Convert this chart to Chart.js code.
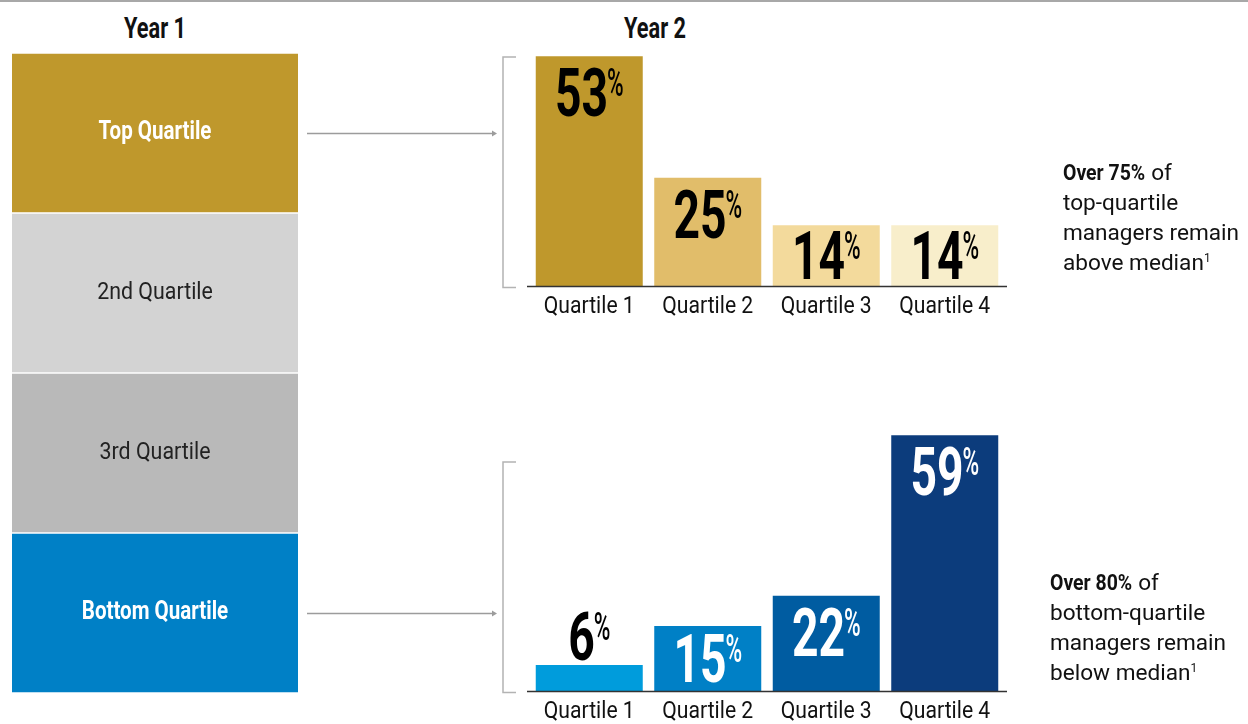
<!DOCTYPE html>
<html>
<head>
<meta charset="utf-8">
<script src="https://cdn.jsdelivr.net/npm/chart.js@4.4.0/dist/chart.umd.min.js"></script>
<style>
  html, body { margin: 0; padding: 0; background: #fff; }
  #wrap { position: relative; width: 1248px; height: 724px; overflow: hidden; font-family: Roboto, sans-serif; color: #111; }
  canvas { position: absolute; left: 0; top: 0; }
  .rule { position: absolute; left: 0; top: 0; width: 1248px; height: 2px; background: #a8a8a8; }
  .title { position: absolute; top: 14px; font-weight: 700; font-size: 29px; line-height: 29px; white-space: nowrap; transform: translateX(-50%) scaleX(0.75); }
  .note { position: absolute; font-size: 22.6px; line-height: 30px; white-space: nowrap; }
  .note .nb { display: inline-block; font-weight: 700; transform: scaleX(0.86); transform-origin: 0 0; margin-right: -13px; }
  .note sup { font-size: 12px; line-height: 0; vertical-align: 8px; }
</style>
</head>
<body>
<div id="wrap">
  <div class="rule"></div>
  <div class="title" style="left:155px">Year 1</div>
  <div class="title" style="left:655px">Year 2</div>
  <canvas id="year1" width="1248" height="724"></canvas>
  <canvas id="topChart" width="1248" height="724"></canvas>
  <canvas id="bottomChart" width="1248" height="724"></canvas>
  <div class="note" style="left:1063px;top:158px"><span class="nb">Over 75%</span> of<br>top-quartile<br>managers remain<br>above median<sup>1</sup></div>
  <div class="note" style="left:1050px;top:568px"><span class="nb">Over 80%</span> of<br>bottom-quartile<br>managers remain<br>below median<sup>1</sup></div>
</div>
<script>
// year 1 groups, stacked bottom to top
const year1Labels = ["Bottom Quartile", "3rd Quartile", "2nd Quartile", "Top Quartile"];
const year1Shares = [25, 25, 25, 25];
const year1Colors = ["#0080C6", "#B9B9B9", "#D3D3D3", "#BF982C"];

// year 2 outcome
const quartileLabels = ["Quartile 1", "Quartile 2", "Quartile 3", "Quartile 4"];
const topQuartileNext = [53, 25, 14, 14];
const bottomQuartileNext = [6, 15, 22, 59];
const topColors = ["#BF982C", "#E1BD6A", "#F3DA9C", "#F8EECB"];
const bottomColors = ["#009CDC", "#0080C6", "#005CA1", "#0C3C7C"];

// draws text squeezed horizontally, to look like a condensed face
function drawNarrow(ctx, text, x, y, font, sx, color, align) {
  ctx.save();
  ctx.font = font;
  ctx.fillStyle = color;
  ctx.textAlign = "left";
  ctx.textBaseline = "alphabetic";
  const w = ctx.measureText(text).width * sx;
  const left = align === "center" ? x - w / 2 : x;
  ctx.translate(left, y);
  ctx.scale(sx, 1);
  ctx.fillText(text, 0, 0);
  ctx.restore();
  return w;
}

function narrowWidth(ctx, text, font, sx) {
  ctx.save();
  ctx.font = font;
  const w = ctx.measureText(text).width * sx;
  ctx.restore();
  return w;
}

function drawArrow(ctx, x1, x2, y) {
  ctx.save();
  ctx.strokeStyle = "#9c9c9c";
  ctx.fillStyle = "#9c9c9c";
  ctx.lineWidth = 1.5;
  ctx.beginPath();
  ctx.moveTo(x1, y);
  ctx.lineTo(x2 - 3, y);
  ctx.stroke();
  ctx.beginPath();
  ctx.moveTo(x2, y);
  ctx.lineTo(x2 - 5, y - 3);
  ctx.lineTo(x2 - 5, y + 3);
  ctx.closePath();
  ctx.fill();
  ctx.restore();
}

const year1Text = {
  id: "year1Text",
  afterDatasetsDraw(chart) {
    const ctx = chart.ctx;
    chart.data.datasets.forEach((ds, i) => {
      const el = chart.getDatasetMeta(i).data[0];
      const cy = (el.y + el.base) / 2;
      const strong = i === 0 || i === 3;
      drawNarrow(ctx, ds.label, el.x, cy + 6,
        strong ? "bold 26px Roboto" : "24px Roboto",
        strong ? 0.79 : 0.89,
        strong ? "#fff" : "#222", "center");
      if (strong) drawArrow(ctx, chart.chartArea.right + 9, 497, Math.round(cy) + 0.5);
    });
  }
};

const pctLabels = {
  id: "pctLabels",
  beforeDatasetsDraw(chart) {
    // bracket to the left of the bars
    const ctx = chart.ctx;
    const base = chart.scales.y.getPixelForValue(0);
    ctx.save();
    ctx.strokeStyle = "#b3b3b3";
    ctx.lineWidth = 1.5;
    ctx.beginPath();
    ctx.moveTo(516, base - 229);
    ctx.lineTo(503, base - 229);
    ctx.lineTo(503, base + 1.5);
    ctx.lineTo(516, base + 1.5);
    ctx.stroke();
    ctx.restore();
  },
  afterDatasetsDraw(chart, args, opts) {
    const ctx = chart.ctx;
    const area = chart.chartArea;
    const meta = chart.getDatasetMeta(0);
    const values = chart.data.datasets[0].data;

    // axis line
    ctx.save();
    ctx.strokeStyle = "#333";
    ctx.lineWidth = 1.5;
    ctx.beginPath();
    ctx.moveTo(area.left - 3, area.bottom + 0.5);
    ctx.lineTo(area.right + 3, area.bottom + 0.5);
    ctx.stroke();
    ctx.restore();

    const cap = 48;
    const numFont = "bold 67px Roboto";
    const pctFont = "500 39px Roboto";
    meta.data.forEach((bar, i) => {
      const h = bar.base - bar.y;
      const txt = String(values[i]);
      let baseline, color;
      if (h >= cap + 10) {
        const pad = Math.min(12, (h - cap) / 2 - 1);
        baseline = bar.y + pad + cap;
        color = opts.colors[i];
      } else {
        baseline = bar.y - 5;
        color = "#000";
      }
      const wn = narrowWidth(ctx, txt, numFont, 0.69);
      const wp = narrowWidth(ctx, "%", pctFont, 0.58);
      const left = bar.x - (wn + wp - 1) / 2;
      drawNarrow(ctx, txt, left, baseline, numFont, 0.69, color, "left");
      drawNarrow(ctx, "%", left + wn - 1, baseline - cap + 28, pctFont, 0.58, color, "left");

      // category label under the axis
      const x = chart.scales.x.getPixelForValue(i);
      drawNarrow(ctx, chart.data.labels[i], x, area.bottom + 27, "23px Roboto", 0.92, "#111", "center");
    });
  }
};

new Chart(document.getElementById("year1"), {
  type: "bar",
  data: {
    labels: ["Year 1"],
    datasets: year1Labels.map((label, i) => ({
      label: label,
      data: [year1Shares[i]],
      backgroundColor: year1Colors[i],
      borderColor: "#fff",
      borderWidth: { top: 1, bottom: 1, left: 0, right: 0 },
      borderSkipped: false,
      barPercentage: 1,
      categoryPercentage: 1
    }))
  },
  options: {
    responsive: false,
    animation: false,
    layout: { padding: { left: 12, right: 950, top: 53, bottom: 31 } },
    plugins: { legend: { display: false }, tooltip: { enabled: false } },
    scales: {
      x: { display: false, stacked: true },
      y: { display: false, stacked: true, min: 0, max: 100 }
    }
  },
  plugins: [year1Text]
});

function makeYear2(id, values, colors, labelColors, padTop, padBottom) {
  return new Chart(document.getElementById(id), {
    type: "bar",
    data: {
      labels: quartileLabels,
      datasets: [{
        data: values,
        backgroundColor: colors,
        borderWidth: 0,
        barPercentage: 0.903,
        categoryPercentage: 1
      }]
    },
    options: {
      responsive: false,
      animation: false,
      layout: { padding: { left: 530, right: 244, top: padTop, bottom: padBottom } },
      plugins: {
        legend: { display: false },
        tooltip: { enabled: false },
        pctLabels: { colors: labelColors }
      },
      scales: {
        x: { display: false },
        y: { display: false, min: 0, max: 60 }
      }
    },
    plugins: [pctLabels]
  });
}

makeYear2("topChart", topQuartileNext, topColors, ["#000", "#000", "#000", "#000"], 26, 438);
makeYear2("bottomChart", bottomQuartileNext, bottomColors, ["#000", "#fff", "#fff", "#fff"], 431, 33);
</script>
</body>
</html>
